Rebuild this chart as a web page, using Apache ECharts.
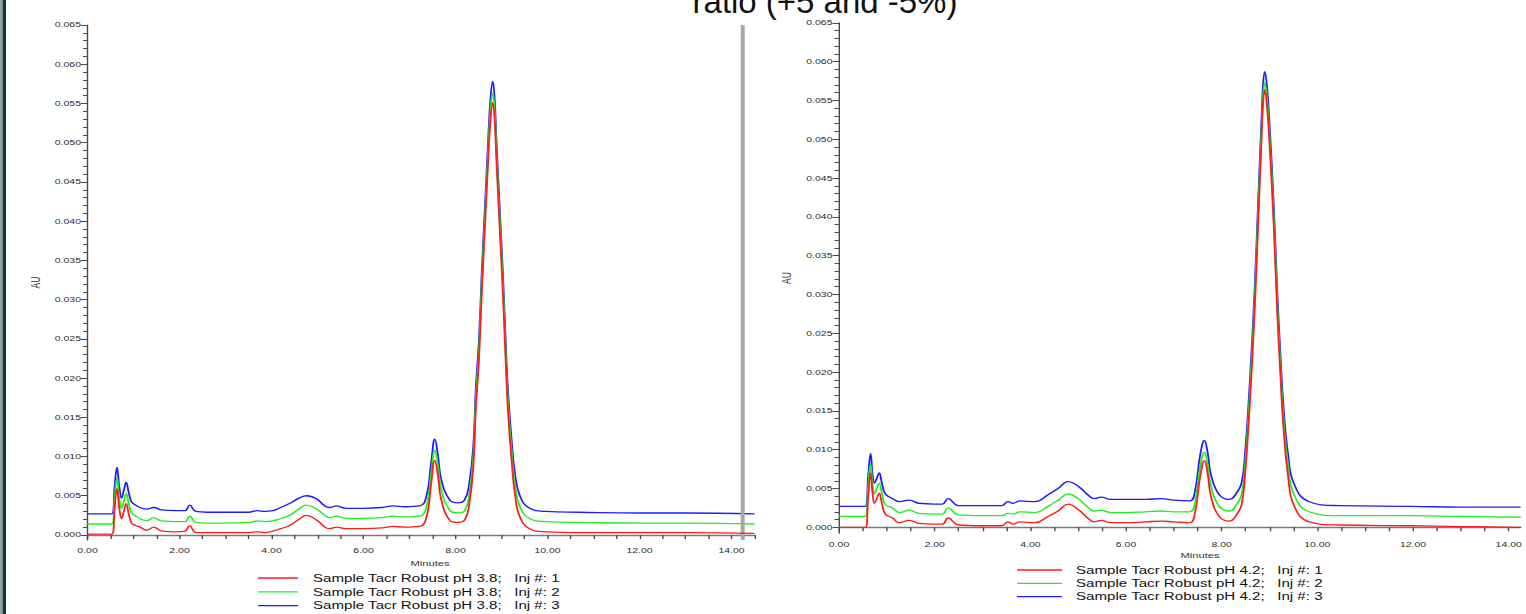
<!DOCTYPE html>
<html>
<head>
<meta charset="utf-8">
<script src="https://cdn.jsdelivr.net/npm/echarts@6/dist/echarts.min.js"></script>
<style>
  html, body { margin: 0; padding: 0; background: #fff; overflow: hidden; }
  /* the exported chromatograms are shown stretched horizontally */
  #chart { width: 1090px; height: 614px; transform: scaleX(1.4); transform-origin: 0 0; }
</style>
</head>
<body>
<div id="chart"></div>
<script>
// ---- pH 3.8 run (left panel): retention time (min) and absorbance (AU)
const timeL = [0, 0.30, 0.53, 0.59, 0.64, 0.69, 0.74, 0.79, 0.84, 0.90,
  0.96, 1.05, 1.14, 1.29, 1.44, 1.61, 1.93, 2.12, 2.22, 2.36,
  2.60, 3.00, 3.50, 3.70, 3.85, 4.03, 4.20, 4.39, 4.60, 4.76,
  4.98, 5.16, 5.26, 5.41, 5.62, 6.00, 6.40, 6.64, 6.90, 7.22,
  7.37, 7.47, 7.55, 7.62, 7.69, 7.87, 8.05, 8.20, 8.30, 8.39,
  8.44, 8.51, 8.57, 8.64, 8.71, 8.76, 8.81, 8.85, 8.89, 8.96,
  9.03, 9.09, 9.14, 9.22, 9.29, 9.40, 9.61, 9.97, 10.69, 12.00,
  13.00, 14.50];
const inj1L = [0.0001, 0.0001, 0.0001, 0.0035, 0.0059, 0.0035, 0.0021, 0.0030, 0.0040, 0.0026,
  0.0015, 0.0012, 0.0010, 0.0006, 0.0010, 0.0005, 0.0004, 0.0005, 0.0012, 0.0003,
  0.0003, 0.0003, 0.0003, 0.0004, 0.0003, 0.0005, 0.0008, 0.0012, 0.0020, 0.0025,
  0.0019, 0.0010, 0.0008, 0.0010, 0.0008, 0.0008, 0.0009, 0.0011, 0.0010, 0.0011,
  0.0023, 0.0065, 0.0095, 0.0075, 0.0045, 0.0019, 0.0016, 0.0019, 0.0040, 0.0090,
  0.0159, 0.0223, 0.0308, 0.0392, 0.0477, 0.0528, 0.0551, 0.0530, 0.0477, 0.0392,
  0.0308, 0.0223, 0.0159, 0.0095, 0.0053, 0.0023, 0.0008, 0.0004, 0.0003, 0.0003,
  0.0003, 0.0002];
const inj2L = [0.0014, 0.0014, 0.0014, 0.0048, 0.0072, 0.0048, 0.0034, 0.0043, 0.0053, 0.0039,
  0.0028, 0.0024, 0.0021, 0.0018, 0.0022, 0.0018, 0.0017, 0.0017, 0.0024, 0.0016,
  0.0015, 0.0015, 0.0016, 0.0018, 0.0017, 0.0018, 0.0021, 0.0025, 0.0033, 0.0038,
  0.0033, 0.0025, 0.0022, 0.0024, 0.0021, 0.0021, 0.0022, 0.0024, 0.0023, 0.0024,
  0.0036, 0.0078, 0.0108, 0.0088, 0.0058, 0.0032, 0.0028, 0.0031, 0.0052, 0.0102,
  0.0171, 0.0235, 0.0320, 0.0404, 0.0489, 0.0541, 0.0563, 0.0542, 0.0489, 0.0404,
  0.0320, 0.0235, 0.0171, 0.0107, 0.0066, 0.0036, 0.0021, 0.0017, 0.0016, 0.0015,
  0.0015, 0.0014];
const inj3L = [0.0027, 0.0027, 0.0027, 0.0062, 0.0086, 0.0062, 0.0047, 0.0057, 0.0067, 0.0053,
  0.0042, 0.0038, 0.0035, 0.0033, 0.0035, 0.0032, 0.0031, 0.0031, 0.0038, 0.0030,
  0.0029, 0.0029, 0.0029, 0.0031, 0.0030, 0.0031, 0.0035, 0.0040, 0.0047, 0.0050,
  0.0046, 0.0037, 0.0035, 0.0037, 0.0034, 0.0034, 0.0035, 0.0037, 0.0036, 0.0037,
  0.0050, 0.0092, 0.0122, 0.0101, 0.0071, 0.0045, 0.0041, 0.0045, 0.0066, 0.0116,
  0.0185, 0.0249, 0.0334, 0.0418, 0.0503, 0.0556, 0.0578, 0.0557, 0.0503, 0.0418,
  0.0334, 0.0249, 0.0185, 0.0121, 0.0080, 0.0050, 0.0034, 0.0030, 0.0029, 0.0028,
  0.0028, 0.0027];

// ---- pH 4.2 run (right panel)
const timeR = [0, 0.30, 0.55, 0.61, 0.66, 0.70, 0.74, 0.79, 0.84, 0.90,
  0.97, 1.12, 1.26, 1.47, 1.67, 2.00, 2.16, 2.28, 2.50, 3.00,
  3.40, 3.53, 3.64, 3.78, 4.10, 4.37, 4.58, 4.79, 5.00, 5.20,
  5.34, 5.48, 5.68, 6.00, 6.40, 6.74, 7.00, 7.33, 7.44, 7.55,
  7.64, 7.71, 7.78, 7.95, 8.16, 8.33, 8.42, 8.49, 8.56, 8.62,
  8.69, 8.76, 8.83, 8.865, 8.90, 8.95, 9.00, 9.09, 9.16, 9.23,
  9.29, 9.39, 9.52, 9.83, 10.44, 11.96, 13.00, 14.25];
const inj1R = [0.0000, 0.0000, 0.0000, 0.0040, 0.0070, 0.0045, 0.0031, 0.0037, 0.0044, 0.0030,
  0.0017, 0.0012, 0.0006, 0.0009, 0.0005, 0.0004, 0.0004, 0.0012, 0.0003, 0.0002,
  0.0002, 0.0007, 0.0004, 0.0007, 0.0006, 0.0014, 0.0021, 0.0030, 0.0023, 0.0012,
  0.0007, 0.0009, 0.0006, 0.0006, 0.0007, 0.0008, 0.0007, 0.0006, 0.0018, 0.0065,
  0.0086, 0.0068, 0.0039, 0.0014, 0.0008, 0.0018, 0.0030, 0.0068, 0.0130, 0.0194,
  0.0280, 0.0387, 0.0495, 0.0545, 0.0564, 0.0540, 0.0495, 0.0387, 0.0280, 0.0194,
  0.0130, 0.0065, 0.0027, 0.0007, 0.0003, 0.0002, 0.0001, 0.0000];
const inj2R = [0.0014, 0.0014, 0.0014, 0.0052, 0.0081, 0.0057, 0.0043, 0.0050, 0.0057, 0.0043,
  0.0029, 0.0025, 0.0019, 0.0022, 0.0018, 0.0017, 0.0017, 0.0025, 0.0016, 0.0015,
  0.0015, 0.0018, 0.0017, 0.0020, 0.0019, 0.0027, 0.0035, 0.0043, 0.0037, 0.0026,
  0.0021, 0.0022, 0.0019, 0.0019, 0.0020, 0.0021, 0.0020, 0.0020, 0.0031, 0.0078,
  0.0097, 0.0080, 0.0052, 0.0027, 0.0021, 0.0031, 0.0043, 0.0081, 0.0143, 0.0207,
  0.0293, 0.0400, 0.0506, 0.0555, 0.0573, 0.0551, 0.0506, 0.0399, 0.0292, 0.0206,
  0.0143, 0.0079, 0.0041, 0.0020, 0.0015, 0.0015, 0.0014, 0.0013];
const inj3R = [0.0027, 0.0027, 0.0027, 0.0066, 0.0095, 0.0070, 0.0057, 0.0063, 0.0070, 0.0056,
  0.0043, 0.0037, 0.0033, 0.0035, 0.0031, 0.0030, 0.0030, 0.0037, 0.0028, 0.0028,
  0.0028, 0.0033, 0.0031, 0.0034, 0.0033, 0.0042, 0.0050, 0.0059, 0.0053, 0.0042,
  0.0037, 0.0039, 0.0036, 0.0036, 0.0036, 0.0037, 0.0035, 0.0034, 0.0046, 0.0093,
  0.0112, 0.0095, 0.0067, 0.0042, 0.0036, 0.0046, 0.0058, 0.0096, 0.0158, 0.0222,
  0.0308, 0.0415, 0.0521, 0.0570, 0.0587, 0.0566, 0.0521, 0.0414, 0.0307, 0.0221,
  0.0158, 0.0093, 0.0055, 0.0033, 0.0028, 0.0027, 0.0026, 0.0026];

// ---- labels
const namesL = ['Sample Tacr Robust pH 3.8;\u00a0\u00a0\u00a0Inj #: 1',
                'Sample Tacr Robust pH 3.8;\u00a0\u00a0\u00a0Inj #: 2',
                'Sample Tacr Robust pH 3.8;\u00a0\u00a0\u00a0Inj #: 3'];
const namesR = ['Sample Tacr Robust pH 4.2;\u00a0\u00a0\u00a0Inj #: 1',
                'Sample Tacr Robust pH 4.2;\u00a0\u00a0\u00a0Inj #: 2',
                'Sample Tacr Robust pH 4.2;\u00a0\u00a0\u00a0Inj #: 3'];
const yTicks = [0, 0.005, 0.010, 0.015, 0.020, 0.025, 0.030, 0.035, 0.040, 0.045, 0.050, 0.055, 0.060, 0.065];
const xTicks = [0, 2, 4, 6, 8, 10, 12, 14];
const titleText = 'ratio (+5 and -5%)';
const xName = 'Minutes';
const yName = 'AU';
const cursorMin = 14.23;   // position of the grey cursor bar on the pH 3.8 trace

// ---- layout (page pixels, converted to the unstretched drawing space)
const SX = 1.4;
const px = v => v / SX;
const FONT = '"Liberation Sans", Arial, sans-serif';
const COLORS = ['#ff1c1c', '#22ee22', '#1c1cff'];

function steps(a, b, s) {
  const out = [];
  for (let v = a; v <= b + 1e-9; v += s) out.push(Math.round(v * 1e6) / 1e6);
  return out;
}

function panel(gi, g) {
  const xIdx = gi * 2, yIdx = gi * 2;
  const axisLine = { show: true, lineStyle: { color: '#4a4a4a', width: 1 } };
  const xAxes = [
    { gridIndex: gi, type: 'value', min: 0, max: g.xMax, position: 'bottom',
      axisLine, splitLine: { show: false },
      axisTick: { show: true, length: 4, lineStyle: { color: '#4a4a4a' }, customValues: steps(0, g.xMax, 0.5) },
      axisLabel: { show: true, customValues: xTicks, formatter: v => v.toFixed(2),
                   fontFamily: FONT, fontSize: 7.5, color: '#2a2a2a', margin: 7, showMaxLabel: true } },
    { gridIndex: gi, type: 'value', min: 0, max: g.xMax, position: 'top',
      axisLine: { show: true, lineStyle: { color: '#7a7a7a', width: 1.4 } },
      axisTick: { show: false }, axisLabel: { show: false }, splitLine: { show: false } }
  ];
  const yAxes = [
    { gridIndex: gi, type: 'value', min: g.yMin, max: 0.065, position: 'left',
      axisLine, splitLine: { show: false },
      axisTick: { show: true, length: px(4.5), lineStyle: { color: '#4a4a4a' }, customValues: steps(0, 0.065, 0.001) },
      axisLabel: { show: true, customValues: yTicks, formatter: v => v.toFixed(3),
                   fontFamily: FONT, fontSize: 7.5, color: '#2a2a2a', margin: px(6.5) },
      name: yName, nameLocation: 'middle', nameRotate: 90, nameGap: px(g.nameGap),
      nameTextStyle: { fontFamily: FONT, fontSize: 8.5, color: '#333' } },
    { gridIndex: gi, type: 'value', min: g.yMin, max: 0.065, position: 'left',
      axisLine: { show: false }, splitLine: { show: false }, axisLabel: { show: false },
      axisTick: { show: true, length: px(6.5), lineStyle: { color: '#4a4a4a' }, customValues: yTicks } }
  ];
  const vals = [g.inj1, g.inj2, g.inj3];
  const series = [2, 1, 0].map(k => ({
    type: 'line', name: g.names[k], xAxisIndex: xIdx, yAxisIndex: yIdx,
    data: g.time.map((t, i) => [t, vals[k][i]]),
    showSymbol: false, symbol: 'none', smooth: 0.45,
    lineStyle: { color: COLORS[k], width: 1.3 }, itemStyle: { color: COLORS[k] },
    silent: true, animation: false, z: 3 + (2 - k),
    markLine: (g.cursor != null && k === 2) ? {
      silent: true, symbol: 'none', label: { show: false },
      lineStyle: { color: '#a8a8a8', width: px(4), type: 'solid' },
      data: [{ xAxis: g.cursor }]
    } : undefined
  }));
  const legend = {
    orient: 'vertical', left: px(g.legendX), top: g.legendTop, padding: 0,
    itemGap: g.legendGap, itemWidth: px(g.legendW), itemHeight: 1.3, icon: 'rect',
    selectedMode: false, data: g.names,
    textStyle: { fontFamily: FONT, fontSize: 10.8, color: '#111', lineHeight: 12,
                 padding: [0, 0, 0, px(g.legendTextGap) - 5] }
  };
  return { xAxes, yAxes, series, legend };
}

const left = panel(0, {
  time: timeL, inj1: inj1L, inj2: inj2L, inj3: inj3L, names: namesL,
  xMax: 14.5, yMin: -0.00064, nameGap: 45, cursor: cursorMin,
  legendX: 258, legendTop: 572, legendGap: 1.8, legendW: 40, legendTextGap: 15
});
const right = panel(1, {
  time: timeR, inj1: inj1R, inj2: inj2R, inj3: inj3R, names: namesR,
  xMax: 14.25, yMin: -0.00077, nameGap: 46, cursor: null,
  legendX: 1017, legendTop: 564, legendGap: 1.3, legendW: 45, legendTextGap: 14
});

const chart = echarts.init(document.getElementById('chart'), null, { renderer: 'svg' });
chart.setOption({
  backgroundColor: '#fff',
  animation: false,
  grid: [
    { left: px(87.5), top: 25, width: px(667), height: 515 },
    { left: px(839), top: 22.8, width: px(687), height: 510.5 }
  ],
  xAxis: left.xAxes.concat(right.xAxes),
  yAxis: left.yAxes.concat(right.yAxes),
  series: left.series.concat(right.series),
  legend: [left.legend, right.legend],
  graphic: [
    { type: 'rect', left: 0, top: 0, shape: { width: px(2.5), height: 614 }, style: { fill: '#8ea2ac' } },
    { type: 'rect', x: px(2.5), y: 0, shape: { width: px(3.5), height: 614 }, style: { fill: '#173240' } },
    { type: 'text', x: px(825), y: 1.5, scaleX: 1 / SX,
      style: { text: titleText, fontFamily: FONT, fontSize: 33, fill: '#111', align: 'center', verticalAlign: 'middle' } },
    { type: 'text', x: px(430), y: 563,
      style: { text: xName, fontFamily: FONT, fontSize: 8, fill: '#333', align: 'center', verticalAlign: 'middle' } },
    { type: 'text', x: px(1200), y: 555,
      style: { text: xName, fontFamily: FONT, fontSize: 8, fill: '#333', align: 'center', verticalAlign: 'middle' } }
  ]
});
</script>
</body>
</html>
